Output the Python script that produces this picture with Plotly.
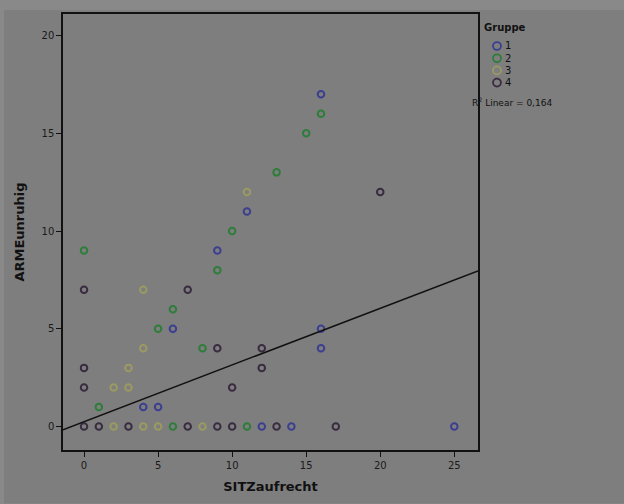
import plotly.graph_objects as go

groups = ["1", "2", "3", "4"]
colors = ["#3c3f90", "#2f7d3a", "#9a9a62", "#3a2c40"]

g1_x = [4, 5, 6, 16, 16, 9, 11, 16, 12, 14, 25]
g1_y = [1, 1, 5, 5, 4, 9, 11, 17, 0, 0, 0]
g2_x = [1, 5, 6, 8, 9, 10, 0, 13, 15, 16, 11, 6]
g2_y = [1, 5, 6, 4, 8, 10, 9, 13, 15, 16, 0, 0]
g3_x = [2, 3, 3, 4, 4, 11, 2, 4, 5, 8]
g3_y = [2, 2, 3, 4, 7, 12, 0, 0, 0, 0]
g4_x = [0, 1, 3, 7, 9, 10, 13, 17, 0, 0, 0, 9, 12, 12, 10, 20, 7]
g4_y = [0, 0, 0, 0, 0, 0, 0, 0, 2, 3, 7, 4, 4, 3, 2, 12, 7]

fit_intercept = 0.25
fit_slope = 0.29
r2_label = "R<sup>2</sup> Linear = 0,164"
legend_title = "Gruppe"

x_range = [-1.42, 26.6]
y_range = [-1.2, 21.1]
x_ticks = [0, 5, 10, 15, 20, 25]
y_ticks = [0, 5, 10, 15, 20]

W, H = 624, 504
ML, MR, MT, MB = 63, 146, 12, 49
PW, PH = W - ML - MR, H - MT - MB


def px(xp):
    return (xp - ML) / PW


def py(yp):
    return (H - MB - yp) / PH


xs = [g1_x, g2_x, g3_x, g4_x]
ys = [g1_y, g2_y, g3_y, g4_y]

fig = go.Figure()
for name, c, gx, gy in zip(groups, colors, xs, ys):
    fig.add_trace(go.Scatter(
        x=gx, y=gy, mode="markers", name=name, showlegend=False,
        marker=dict(symbol="circle-open", size=6.5, color=c, line=dict(width=2, color=c)),
    ))

fig.add_trace(go.Scatter(
    x=x_range, y=[fit_intercept + fit_slope * v for v in x_range],
    mode="lines", line=dict(color="#111111", width=1.5), showlegend=False,
))

fig.add_shape(type="rect", xref="paper", yref="paper",
              x0=px(4), x1=px(W + 5), y0=py(H + 5), y1=py(8),
              fillcolor="#7e7e7e", line=dict(width=0), layer="below")

# legend (drawn manually for tight SPSS spacing)
fig.add_annotation(xref="paper", yref="paper", x=px(482), y=py(26), xanchor="left", yanchor="middle",
                   text="<b>" + legend_title + "</b>", showarrow=False,
                   font=dict(size=10, color="#111111"))
leg_y = [44.5, 57, 69.3, 81.7]
r = 4.0
for name, c, ly in zip(groups, colors, leg_y):
    fig.add_shape(type="circle", xref="paper", yref="paper",
                  x0=px(497 - r), x1=px(497 + r), y0=py(ly + r), y1=py(ly - r),
                  line=dict(color=c, width=1.8), fillcolor="rgba(0,0,0,0)")
    fig.add_annotation(xref="paper", yref="paper", x=px(503), y=py(ly), xanchor="left", yanchor="middle",
                       text=name, showarrow=False, font=dict(size=10, color="#111111"))

fig.add_annotation(xref="paper", yref="paper", x=px(470), y=py(101), xanchor="left", yanchor="middle",
                   text=r2_label, showarrow=False, font=dict(size=9, color="#111111"))

fig.update_layout(
    width=W, height=H,
    margin=dict(l=ML, r=MR, t=MT, b=MB),
    paper_bgcolor="#898989",
    plot_bgcolor="#747474",
    font=dict(family="DejaVu Sans, sans-serif", color="#1a1a1a"),
    showlegend=False,
    xaxis=dict(
        range=x_range, tickvals=x_ticks, ticks="outside", ticklen=5, tickcolor="#111111",
        showline=True, linecolor="#111111", linewidth=1.5, mirror=True,
        showgrid=False, zeroline=False, tickfont=dict(size=10, color="#1a1a1a"),
        title=dict(text="<b>SITZaufrecht</b>", font=dict(size=13, color="#111111"), standoff=12),
    ),
    yaxis=dict(
        range=y_range, tickvals=y_ticks, ticks="outside", ticklen=5, tickcolor="#111111",
        showline=True, linecolor="#111111", linewidth=1.5, mirror=True,
        showgrid=False, zeroline=False, tickfont=dict(size=10, color="#1a1a1a"),
        title=dict(text="<b>ARMEunruhig</b>", font=dict(size=13, color="#111111"), standoff=14),
    ),
)

fig.write_html("out.html")
